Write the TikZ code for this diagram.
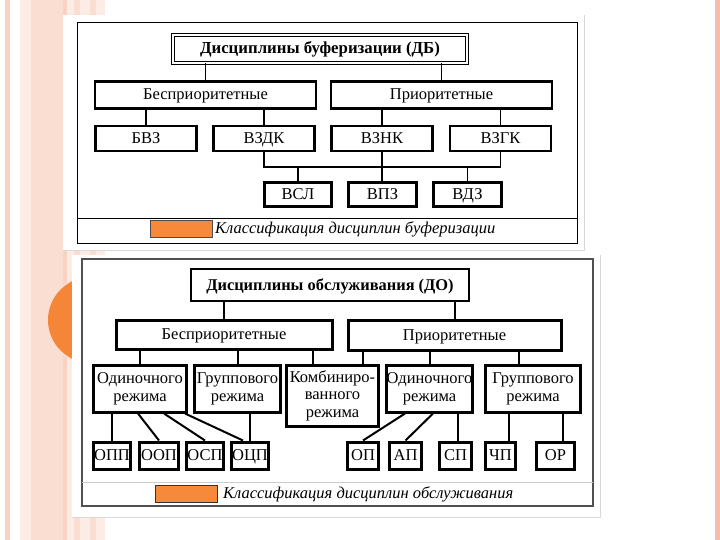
\documentclass[tikz,border=0pt]{standalone}
\usepackage{fontspec}
\setmainfont{Liberation Serif}
\definecolor{peach}{RGB}{251,222,210}
\definecolor{pinkA}{RGB}{249,210,196}
\definecolor{paleA}{RGB}{253,236,229}
\definecolor{salmon}{RGB}{246,190,170}
\definecolor{orangeC}{RGB}{245,134,56}
\definecolor{capOr}{RGB}{247,137,58}
\definecolor{frameG}{RGB}{80,80,80}
\begin{document}
\begin{tikzpicture}[x=1pt,y=-1pt,
  box/.style={draw, line width=2.6pt, fill=white, inner sep=0pt, align=center,
    font=\fontsize{16.5}{18}\selectfont},
  one/.style={text height=10.5pt, text depth=0.5pt},
  boxb/.style={box, line width=3pt, font=\fontsize{16.5}{18}\selectfont},
  conn/.style={line width=1.3pt},
  connb/.style={line width=2pt},
  captext/.style={font=\fontsize{16.5}{18}\selectfont\itshape, inner sep=0pt, anchor=west}]
\useasboundingbox (0,0) rectangle (720,540);
% slide background
\fill[white] (0,0) rectangle (720,540);
\fill[pinkA] (5,0) rectangle (10,540);
\fill[paleA] (20,0) rectangle (31,540);
\fill[peach] (31,0) rectangle (63,540);
\fill[pinkA] (63,0) rectangle (67,540);
\fill[paleA] (67,0) rectangle (105,540);
\fill[peach] (74,0) rectangle (80,540);
\fill[peach] (90,0) rectangle (96,540);
\fill[salmon] (715,0) rectangle (720,540);
\fill[peach] (91,320) circle (45);
\fill[orangeC] (91,320) circle (43);
% picture backgrounds
\fill[white] (63,15) rectangle (584,250);
\draw[black!15, line width=0.6pt] (584,15) -- (584,250) -- (63,250);
\fill[white] (72,255) rectangle (600,517);
\draw[black!15, line width=0.6pt] (600,255) -- (600,517) -- (72,517);

% ===== picture 1 =====
\draw[line width=1pt] (77,23) rectangle (577,243);
\draw[line width=0.8pt] (77,218) -- (577,218);
\node[draw=black, line width=0.9pt, double=white, double distance=1.6pt, fill=white,
  minimum width=294pt, minimum height=28pt, inner sep=0pt, one,
  font=\fontsize{16.8}{18}\selectfont\bfseries] (t1) at (320,49) {Дисциплины буферизации (ДБ)};
\node[box, one, minimum width=221pt, minimum height=27pt] (b1) at (205.5,95) {Бесприоритетные};
\node[box, one, minimum width=221pt, minimum height=27pt] (p1) at (441.5,95) {Приоритетные};
\node[box, one, minimum width=101pt, minimum height=25pt] (bvz) at (146,138.5) {БВЗ};
\node[box, one, minimum width=101pt, minimum height=25pt] (vzdk) at (264,138.5) {ВЗДК};
\node[box, one, minimum width=101pt, minimum height=25pt] (vznk) at (382,138.5) {ВЗНК};
\node[box, one, minimum width=101pt, minimum height=25pt] (vzgk) at (500.5,138.5) {ВЗГК};
\node[box, one, minimum width=67pt, minimum height=24pt] (vsl) at (298,194.5) {ВСЛ};
\node[box, one, minimum width=68pt, minimum height=24pt] (vpz) at (382.5,194.5) {ВПЗ};
\node[box, one, minimum width=68pt, minimum height=24pt] (vdz) at (467.5,194.5) {ВДЗ};
\coordinate (bus) at (0,167);
\draw[conn] (t1.south -| b1.north) -- (b1.north);
\draw[conn] (t1.south -| p1.north) -- (p1.north);
\draw[conn] (b1.south -| bvz.north) -- (bvz.north);
\draw[conn] (b1.south -| vzdk.north) -- (vzdk.north);
\draw[conn] (p1.south -| vznk.north) -- (vznk.north);
\draw[conn] (p1.south -| vzgk.north) -- (vzgk.north);
\draw[conn] (vzdk.south) -- (vzdk.south |- bus) -- (vzgk.south |- bus) -- (vzgk.south);
\draw[conn] (vznk.south) -- (vznk.south |- vpz.north);
\draw[conn] (vsl.north) -- (vsl.north |- bus);
\draw[conn] (vdz.north) -- (vdz.north |- bus);
\node[draw=black!70, line width=0.6pt, fill=capOr, minimum width=62pt, minimum height=17pt,
  inner sep=0pt] (or1) at (181,228.5) {};
\node[captext] (c1) at (215,229.5) {Классификация дисциплин буферизации};

% ===== picture 2 =====
\draw[frameG, line width=1.2pt] (82,259) rectangle (593,506);
\draw[black!20, line width=0.8pt] (82,482) -- (593,482);
\node[boxb, one, line width=2.6pt, minimum width=278pt, minimum height=32pt,
  font=\fontsize{16.4}{18}\selectfont\bfseries] (t2) at (330,285) {Дисциплины обслуживания (ДО)};
\node[boxb, one, minimum width=216pt, minimum height=29pt] (b2) at (224,334.5) {Бесприоритетные};
\node[boxb, one, minimum width=213pt, minimum height=30pt] (p2) at (454.5,335) {Приоритетные};
\node[boxb, minimum width=93pt, minimum height=47pt] (o1) at (140,388.5) {Одиночного\\режима};
\node[boxb, minimum width=86pt, minimum height=47pt] (g1) at (237.5,388.5) {Группового\\режима};
\node[boxb, minimum width=92pt, minimum height=61pt, font=\fontsize{16.5}{17.5}\selectfont] (km) at (332.5,395.5) {Комбиниро-\\ванного\\режима};
\node[boxb, minimum width=84pt, minimum height=47pt] (o2) at (429.5,388.5) {Одиночного\\режима};
\node[boxb, minimum width=95pt, minimum height=47pt] (g2) at (533,388.5) {Группового\\режима};
\node[boxb, one, minimum width=37pt, minimum height=27pt] (opp) at (112,455.5) {ОПП};
\node[boxb, one, minimum width=39pt, minimum height=27pt] (oop) at (159,455.5) {ООП};
\node[boxb, one, minimum width=37pt, minimum height=27pt] (osp) at (205,455.5) {ОСП};
\node[boxb, one, minimum width=37pt, minimum height=27pt] (ocp) at (250,455.5) {ОЦП};
\node[boxb, one, minimum width=31pt, minimum height=27pt] (op) at (363,455.5) {ОП};
\node[boxb, one, minimum width=32pt, minimum height=27pt] (ap) at (405.5,455.5) {АП};
\node[boxb, one, minimum width=32pt, minimum height=27pt] (sp) at (455.5,455.5) {СП};
\node[boxb, one, minimum width=30pt, minimum height=27pt] (chp) at (500.5,455.5) {ЧП};
\node[boxb, one, minimum width=38pt, minimum height=27pt] (or) at (555.5,455.5) {ОР};
\coordinate (k1) at (313,0);
\coordinate (k2) at (363,0);
\coordinate (c2) at (519,0);
\coordinate (ch) at (509,0);
\coordinate (orx) at (563,0);
\coordinate (sx) at (458,0);
\draw[connb] (t2.south -| b2.north) -- (b2.north);
\draw[connb] (t2.south -| p2.north) -- (p2.north);
\draw[connb] (b2.south -| o1.north) -- (o1.north);
\draw[connb] (b2.south -| g1.north) -- (g1.north);
\draw[connb] (b2.south -| k1) -- (km.north -| k1);
\draw[connb] (p2.south -| k2) -- (km.north -| k2);
\draw[connb] (p2.south -| o2.north) -- (o2.north);
\draw[line width=2.6pt] (p2.south -| c2) -- (g2.north -| c2);
\draw[connb] (o1.south -| opp.north) -- (opp.north);
\draw[connb] (o1.south -| 138,0) -- (oop.north);
\draw[connb] (o1.south -| 164,0) -- (osp.north);
\draw[connb] (o1.south -| 185,0) -- (ocp.north -| 243,0);
\draw[connb] (g1.south -| ocp.north) -- (ocp.north);
\draw[connb] (o2.south -| 405,0) -- (op.north);
\draw[connb] (o2.south -| 433,0) -- (ap.north);
\draw[connb] (o2.south -| sx) -- (sp.north -| sx);
\draw[connb] (g2.south -| ch) -- (chp.north -| ch);
\draw[connb] (g2.south -| orx) -- (or.north -| orx);
\node[draw=black!80, line width=0.6pt, fill=capOr, minimum width=62pt, minimum height=17pt,
  inner sep=0pt] (or2) at (186.5,493.5) {};
\node[captext] (c2t) at (223,494) {Классификация дисциплин обслуживания};
\end{tikzpicture}
\end{document}
